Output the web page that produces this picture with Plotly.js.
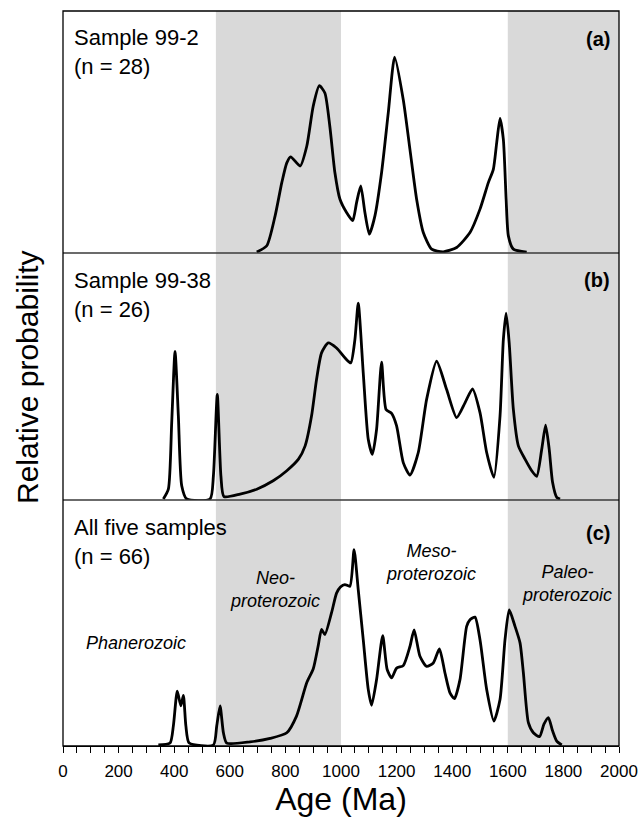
<!DOCTYPE html>
<html>
<head>
<meta charset="utf-8">
<script src="https://cdn.plot.ly/plotly-3.0.1.min.js"></script>
<style>html,body{margin:0;padding:0;background:#fff;}#chart{width:638px;height:820px;}</style>
</head>
<body>
<div id="chart"></div>
<script>
// Panel (a): Sample 99-2 (n = 28)
const ageA = [697, 733, 763, 787, 805, 819, 853, 877, 900, 922, 942, 960, 978, 996, 1020, 1042, 1056, 1071, 1086, 1102, 1122, 1146, 1170, 1193, 1224, 1248, 1272, 1296, 1326, 1368, 1416, 1464, 1500, 1530, 1548, 1560, 1572, 1584, 1594, 1602, 1620, 1668];
const probA = [0, 0.026, 0.15, 0.288, 0.37, 0.395, 0.357, 0.44, 0.605, 0.69, 0.66, 0.52, 0.33, 0.22, 0.164, 0.13, 0.205, 0.274, 0.164, 0.074, 0.15, 0.33, 0.577, 0.809, 0.632, 0.426, 0.219, 0.081, 0.012, 0.001, 0.019, 0.081, 0.178, 0.288, 0.343, 0.453, 0.554, 0.467, 0.219, 0.067, 0.012, 0];

// Panel (b): Sample 99-38 (n = 26)
const ageB = [361, 379, 391, 403, 415, 427, 445, 529, 541, 555, 568, 579, 637, 697, 756, 805, 847, 871, 894, 912, 930, 954, 984, 1014, 1035, 1050, 1062, 1080, 1098, 1113, 1128, 1146, 1162, 1182, 1200, 1224, 1248, 1278, 1308, 1344, 1380, 1416, 1446, 1473, 1500, 1524, 1550, 1572, 1584, 1594, 1605, 1620, 1638, 1662, 1686, 1704, 1722, 1736, 1749, 1761, 1776, 1788];
const probB = [0, 0.04, 0.31, 0.6, 0.337, 0.054, 0, 0, 0.094, 0.425, 0.094, 0.01, 0.02, 0.04, 0.074, 0.115, 0.162, 0.216, 0.337, 0.486, 0.594, 0.635, 0.614, 0.574, 0.553, 0.648, 0.796, 0.513, 0.243, 0.182, 0.283, 0.556, 0.364, 0.348, 0.297, 0.148, 0.097, 0.189, 0.405, 0.56, 0.445, 0.331, 0.391, 0.448, 0.351, 0.189, 0.088, 0.337, 0.648, 0.756, 0.635, 0.364, 0.216, 0.162, 0.115, 0.092, 0.202, 0.3, 0.202, 0.068, 0.007, 0];

// Panel (c): All five samples (n = 66)
const ageC = [343, 385, 397, 411, 424, 433, 442, 454, 541, 553, 565, 577, 589, 673, 745, 805, 840, 877, 900, 918, 930, 942, 966, 984, 998, 1014, 1032, 1047, 1062, 1080, 1098, 1110, 1128, 1150, 1166, 1182, 1200, 1224, 1248, 1263, 1284, 1308, 1332, 1354, 1374, 1392, 1408, 1428, 1452, 1464, 1482, 1500, 1524, 1550, 1572, 1590, 1605, 1626, 1644, 1656, 1674, 1692, 1714, 1730, 1746, 1761, 1776, 1794];
const probC = [0, 0.008, 0.078, 0.22, 0.16, 0.203, 0.078, 0.008, 0, 0.078, 0.16, 0.05, 0.008, 0.013, 0.027, 0.05, 0.118, 0.255, 0.31, 0.405, 0.472, 0.451, 0.54, 0.62, 0.645, 0.655, 0.648, 0.797, 0.634, 0.43, 0.227, 0.162, 0.267, 0.446, 0.308, 0.274, 0.314, 0.324, 0.402, 0.47, 0.362, 0.321, 0.335, 0.392, 0.294, 0.213, 0.189, 0.267, 0.484, 0.511, 0.522, 0.43, 0.227, 0.098, 0.186, 0.43, 0.552, 0.484, 0.417, 0.295, 0.091, 0.05, 0.034, 0.085, 0.112, 0.058, 0.016, 0];

// Shaded eras (Ma)
const neoproterozoic = [550, 1000];
const paleoproterozoic = [1600, 2000];

const panelTitles = ["Sample 99-2", "Sample 99-38", "All five samples"];
const panelCounts = ["(n = 28)", "(n = 26)", "(n = 66)"];
const panelLetters = ["(a)", "(b)", "(c)"];
const eraLabels = ["Phanerozoic", "Neo-<br>proterozoic", "Meso-<br>proterozoic", "Paleo-<br>proterozoic"];
const xTickVals = [0, 200, 400, 600, 800, 1000, 1200, 1400, 1600, 1800, 2000];

// ---- layout geometry ----
const W = 638, H = 820, L = 63, R = 619, T = 11, B = 746;
const sep1 = 253, sep2 = 500;
const px = x => (x - L) / (R - L);
const py = y => (B - y) / (B - T);

const lineStyle = {color: '#000', width: 2.8, shape: 'spline', smoothing: 0.6};
const traces = [
  {x: ageA, y: probA, yaxis: 'y3', xaxis: 'x', mode: 'lines', line: lineStyle, hoverinfo: 'skip'},
  {x: ageB, y: probB, yaxis: 'y2', xaxis: 'x', mode: 'lines', line: lineStyle, hoverinfo: 'skip'},
  {x: ageC, y: probC, yaxis: 'y', xaxis: 'x', mode: 'lines', line: lineStyle, hoverinfo: 'skip'}
];

const yBase = {showticklabels: false, showgrid: false, zeroline: false, showline: false, ticks: '', fixedrange: true};

const font = 'Liberation Sans, Arial, Helvetica, sans-serif';

const shapes = [];
[neoproterozoic, paleoproterozoic].forEach(r => shapes.push({
  type: 'rect', xref: 'x', yref: 'paper', x0: r[0], x1: r[1], y0: 0, y1: 1,
  fillcolor: '#d9d9d9', line: {width: 0}, layer: 'below'
}));
[sep1, sep2].forEach(s => shapes.push({
  type: 'line', xref: 'paper', yref: 'paper', x0: 0, x1: 1, y0: py(s), y1: py(s),
  line: {color: '#3a3a3a', width: 1.5}
}));
shapes.push({type: 'rect', xref: 'paper', yref: 'paper', x0: 0, x1: 1, y0: 0, y1: 1,
  line: {color: '#000', width: 1.3}, fillcolor: 'rgba(0,0,0,0)'});

const annotations = [];
const titleY = [[37, 67], [280, 309], [527, 556]];
const letterY = [39, 280, 533];
for (let i = 0; i < 3; i++) {
  annotations.push({xref: 'paper', yref: 'paper', x: px(72), y: py(titleY[i][0]), xanchor: 'left', yanchor: 'middle',
    text: panelTitles[i], showarrow: false, font: {family: font, size: 22, color: '#000'}});
  annotations.push({xref: 'paper', yref: 'paper', x: px(72), y: py(titleY[i][1]), xanchor: 'left', yanchor: 'middle',
    text: panelCounts[i], showarrow: false, font: {family: font, size: 22, color: '#000'}});
  annotations.push({xref: 'paper', yref: 'paper', x: px(612), y: py(letterY[i]), xanchor: 'right', yanchor: 'middle',
    text: '<b>' + panelLetters[i] + '</b>', showarrow: false, font: {family: font, size: 20, color: '#000'}});
}
const eraPos = [[136, 643], [275, 589], [431, 562], [567, 583]];
eraLabels.forEach((t, i) => annotations.push({
  xref: 'paper', yref: 'paper', x: px(eraPos[i][0]), y: py(eraPos[i][1]), xanchor: 'center', yanchor: 'middle',
  align: 'center', text: '<i>' + t + '</i>', showarrow: false, font: {family: font, size: 18, color: '#000'}
}));
annotations.push({xref: 'paper', yref: 'paper', x: px(28), y: py(378), xanchor: 'center', yanchor: 'middle',
  textangle: -90, text: 'Relative probability', showarrow: false, font: {family: font, size: 30, color: '#000'}});

const layout = {
  width: W, height: H,
  margin: {l: L, r: W - R, t: T, b: H - B, pad: 0},
  paper_bgcolor: '#fff', plot_bgcolor: 'rgba(0,0,0,0)',
  showlegend: false,
  xaxis: {
    range: [0, 2000], tickvals: xTickVals, ticks: 'outside', ticklen: 6, tickwidth: 1, tickcolor: '#000',
    showline: true, linecolor: '#000', linewidth: 1.3, showgrid: false, zeroline: false, anchor: 'y',
    tickfont: {family: font, size: 17, color: '#000'}, ticklabelstandoff: 3,
    minor: {dtick: 50, ticks: 'outside', ticklen: 6, tickwidth: 1, tickcolor: '#000', showgrid: false},
    title: {text: 'Age (Ma)', font: {family: font, size: 32, color: '#000'}, standoff: 8},
    fixedrange: true
  },
  yaxis: Object.assign({}, yBase, {domain: [0, py(sep2)], range: [-0.004, 1]}),
  yaxis2: Object.assign({}, yBase, {domain: [py(sep2), py(sep1)], range: [-0.004, 1]}),
  yaxis3: Object.assign({}, yBase, {domain: [py(sep1), 1], range: [-0.004, 1]}),
  shapes: shapes,
  annotations: annotations
};

Plotly.newPlot('chart', traces, layout, {displayModeBar: false, staticPlot: true});
</script>
</body>
</html>
